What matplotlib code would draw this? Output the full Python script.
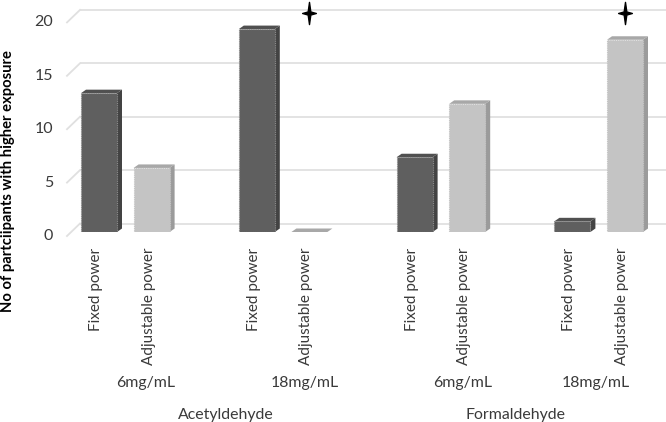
import matplotlib
matplotlib.use("Agg")
import matplotlib.pyplot as plt
import matplotlib.transforms as mtrans
from matplotlib.patches import Polygon
from matplotlib.path import Path

# ---------------- data ----------------
compounds = ["Acetyldehyde", "Formaldehyde"]
concentrations = ["6mg/mL", "18mg/mL", "6mg/mL", "18mg/mL"]
devices = ["Fixed power", "Adjustable power"]
fixed_values = [13, 19, 7, 1]
adjustable_values = [6, 0, 12, 18]
significant_adjustable = [False, True, False, True]
y_ticks = [0, 5, 10, 15, 20]

# ---------------- style ----------------
plt.rcParams["font.family"] = ["Lato", "DejaVu Sans"]
TXT = "#3a3a3a"
DARK = dict(front="#5f5f5f", side="#434343", top="#505050", edge="#8c8c8c")
LIGHT = dict(front="#c4c4c4", side="#9b9b9b", top="#a8a8a8", edge="#c4c4c4")
GRID = "#e0e0e0"

W, H, DPI = 666, 422, 100
fig = plt.figure(figsize=(W / DPI, H / DPI), dpi=DPI)
ax_left, ax_right = 67, 666
ax_bottom, ax_top = 232, 18.4
ax = fig.add_axes([ax_left / W, (H - ax_bottom) / H,
                   (ax_right - ax_left) / W, (ax_bottom - ax_top) / H])
PX_SLOT = 52.6
PX_UNIT = (ax_bottom - ax_top) / 20.0
xmin = -(99 - ax_left) / PX_SLOT
xmax = xmin + (ax_right - ax_left) / PX_SLOT
ax.set_xlim(xmin, xmax)
ax.set_ylim(0, 20)
for s in ax.spines.values():
    s.set_visible(False)
ax.set_yticks([])

# 3D geometry helpers (pixel depths converted to data units)
bar_w = 36 / PX_SLOT
bdx, bdy = 5 / PX_SLOT, 3.5 / PX_UNIT
back_dx, back_dy = 13 / PX_SLOT, 8.5 / PX_UNIT
front_dy = -4 / PX_UNIT

# gridlines (back wall + left diagonal)
for v in y_ticks:
    ax.plot([xmin + back_dx, xmax + 0.3], [v + back_dy, v + back_dy],
            color=GRID, lw=1.3, zorder=0, clip_on=False, solid_capstyle="butt")
    ax.plot([xmin, xmin + back_dx], [v + front_dy, v + back_dy],
            color=GRID, lw=1.3, zorder=0, clip_on=False)
    t = ax.text(xmin, v + front_dy, str(v), ha="right", va="center",
                fontsize=11.5, color=TXT)
    t.set_transform(ax.transData + mtrans.ScaledTranslation(-14 / DPI, 0, fig.dpi_scale_trans))


def bar3d(x, v, c):
    x0, x1 = x - bar_w / 2, x + bar_w / 2
    side = Polygon([(x1, 0), (x1, v), (x1 + bdx, v + bdy), (x1 + bdx, bdy)],
                   closed=True, facecolor=c["side"], edgecolor="none", zorder=2)
    top = Polygon([(x0, v), (x1, v), (x1 + bdx, v + bdy), (x0 + bdx, v + bdy)],
                  closed=True, facecolor=c["top"], edgecolor="none", zorder=2)
    ax.add_patch(side)
    ax.add_patch(top)
    if v > 0:
        ax.bar(x, v, width=bar_w, color=c["front"], edgecolor=c["edge"],
               linewidth=0.8, linestyle=(0, (1, 1)), zorder=3)


tick_pos, tick_lab = [], []
star_path = Path([(0, 1), (0.12, 0.14), (0.62, 0), (0.12, -0.14), (0, -1),
                  (-0.12, -0.14), (-0.62, 0), (-0.12, 0.14), (0, 1)],
                 [Path.MOVETO] + [Path.LINETO] * 7 + [Path.CLOSEPOLY])
for g in range(len(fixed_values)):
    xf, xa = 3 * g, 3 * g + 1
    bar3d(xf, fixed_values[g], DARK)
    bar3d(xa, adjustable_values[g], LIGHT)
    tick_pos += [xf, xa]
    tick_lab += devices
    if significant_adjustable[g]:
        ax.plot(xa, 20.5, marker=star_path, markersize=16, color="black",
                clip_on=False, zorder=5)

ax.set_xticks(tick_pos, tick_lab, rotation=90, fontsize=11, color=TXT)
ax.tick_params(axis="x", length=0, pad=11.5)
shift = mtrans.ScaledTranslation(-3 / DPI, 0, fig.dpi_scale_trans)
for lab in ax.get_xticklabels():
    lab.set_transform(lab.get_transform() + shift)

# second-level labels (concentration) and third-level (compound)
conc_shift = [0.38, 0.42, 0.42, -0.05]
for g, lab in enumerate(concentrations):
    ax.text(3 * g + 0.5 + conc_shift[g], 0, lab, ha="center", va="center",
            fontsize=11.4, color=TXT,
            transform=ax.transData + mtrans.ScaledTranslation(0, -151 / DPI, fig.dpi_scale_trans))
comp_shift = [0.42, -0.08]
for c, lab in enumerate(compounds):
    ax.text(6 * c + 2 + comp_shift[c], 0, lab, ha="center", va="center",
            fontsize=11.4, color=TXT,
            transform=ax.transData + mtrans.ScaledTranslation(0, -183 / DPI, fig.dpi_scale_trans))

fig.text(8 / W, 1 - 181 / H, "No of partciipants with higher exposure", rotation=90,
         ha="center", va="center", fontsize=10.6, fontweight="bold", color="black")

fig.savefig("out.png", dpi=DPI)
